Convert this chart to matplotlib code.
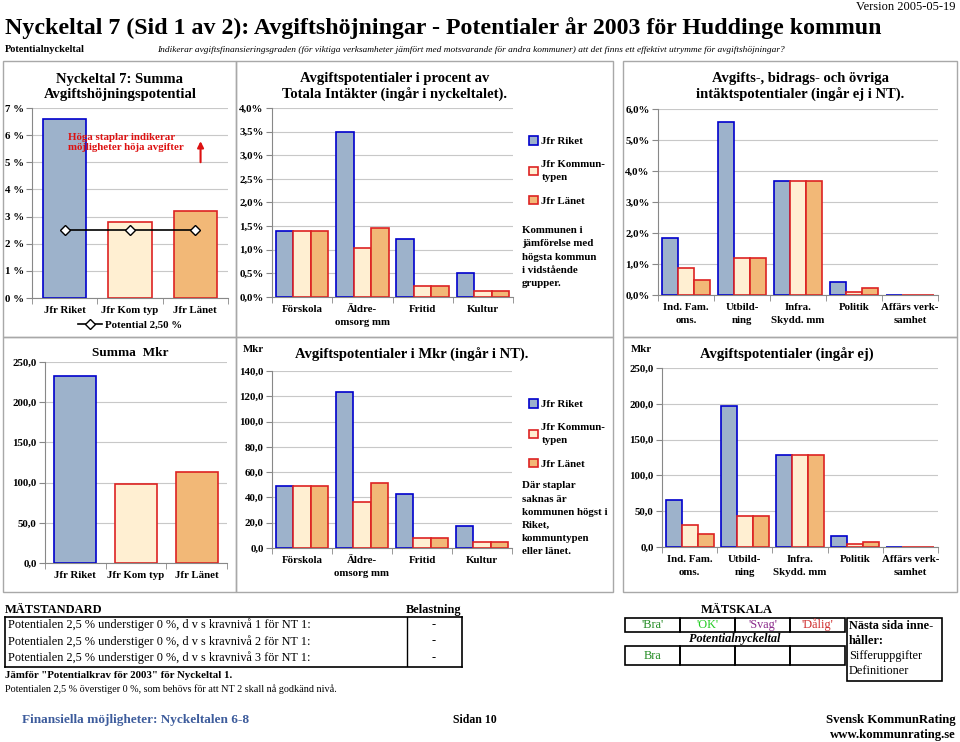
import matplotlib
matplotlib.use("Agg")
import matplotlib.pyplot as plt
import matplotlib.patches as mpatches
import numpy as np

plt.rcParams['font.family'] = ['Liberation Serif', 'DejaVu Serif']

W, H = 960, 742

# --- data ---
serier = ['Jfr Riket', 'Jfr Kommun-\ntypen', 'Jfr Länet']
summa_kat = ['Jfr Riket', 'Jfr Kom typ', 'Jfr Länet']
summa_pct = [6.6, 2.8, 3.22]
potential = 2.5
summa_mkr = [232.0, 98.0, 113.0]

nt_kat = ['Förskola', 'Äldre-\nomsorg mm', 'Fritid', 'Kultur']
nt_pct_riket = [1.40, 3.50, 1.22, 0.50]
nt_pct_kom = [1.40, 1.03, 0.23, 0.12]
nt_pct_lan = [1.40, 1.47, 0.23, 0.12]
nt_mkr_riket = [49.0, 123.0, 42.5, 17.5]
nt_mkr_kom = [49.0, 36.0, 8.0, 4.5]
nt_mkr_lan = [49.0, 51.5, 8.0, 4.5]

ej_kat = ['Ind. Fam.\noms.', 'Utbild-\nning', 'Infra.\nSkydd. mm', 'Politik', 'Affärs verk-\nsamhet']
ej_pct_riket = [1.83, 5.58, 3.67, 0.42, 0.0]
ej_pct_kom = [0.87, 1.20, 3.67, 0.10, 0.0]
ej_pct_lan = [0.50, 1.20, 3.67, 0.22, 0.0]
ej_mkr_riket = [65.0, 197.0, 129.0, 15.0, 0.0]
ej_mkr_kom = [31.0, 43.0, 129.0, 4.0, 0.0]
ej_mkr_lan = [17.5, 43.0, 129.0, 7.5, 0.0]

ticks_summa = [0, 1, 2, 3, 4, 5, 6, 7]
ticklab_summa = ['0 %', '1 %', '2 %', '3 %', '4 %', '5 %', '6 %', '7 %']
ticks_ntpct = [0, 0.5, 1.0, 1.5, 2.0, 2.5, 3.0, 3.5, 4.0]
ticklab_ntpct = ['0,0%', '0,5%', '1,0%', '1,5%', '2,0%', '2,5%', '3,0%', '3,5%', '4,0%']
ticks_ejpct = [0, 1, 2, 3, 4, 5, 6]
ticklab_ejpct = ['0,0%', '1,0%', '2,0%', '3,0%', '4,0%', '5,0%', '6,0%']
ticks_250 = [0, 50, 100, 150, 200, 250]
ticklab_250 = ['0,0', '50,0', '100,0', '150,0', '200,0', '250,0']
ticks_140 = [0, 20, 40, 60, 80, 100, 120, 140]
ticklab_140 = ['0,0', '20,0', '40,0', '60,0', '80,0', '100,0', '120,0', '140,0']

standard_rader = ['Potentialen 2,5 % understiger 0 %, d v s kravnivå 1 för NT 1:',
                  'Potentialen 2,5 % understiger 0 %, d v s kravnivå 2 för NT 1:',
                  'Potentialen 2,5 % understiger 0 %, d v s kravnivå 3 för NT 1:']
belastning = ['-', '-', '-']
skala = ["'Bra'", "'OK'", "'Svag'", "'Dålig'"]
skala_farg = ['#228B22', '#22CC22', '#8B2A8B', '#D03030']
resultat = ['Bra', '', '', '']

# --- style ---
fc = ['#9DB2CB', '#FFEFD2', '#F2B877']
ec = ['#0000CC', '#DD2222', '#DD2222']
GRID = '#C8C8C8'
SPINE = '#888888'

fig = plt.figure(figsize=(W / 100, H / 100), dpi=100)


def px_axes(x0, y0, x1, y1):
    return fig.add_axes([x0 / W, 1 - y1 / H, (x1 - x0) / W, (y1 - y0) / H])


def ftext(x, y, s, **kw):
    kw.setdefault('va', 'center')
    return fig.text(x / W, 1 - y / H, s, **kw)


def style(ax, ncat, ticks, ticklabs, ymax, cats):
    ax.set_xlim(-0.5, ncat - 0.5)
    ax.set_ylim(0, ymax)
    ax.set_yticks(ticks)
    ax.set_yticklabels(ticklabs, fontsize=7.8, fontweight='bold')
    ax.set_xticks(range(ncat))
    ax.set_xticklabels(cats, fontsize=7.8, fontweight='bold', linespacing=1.5, va='top')
    ax.set_xticks(np.arange(-0.5, ncat, 1.0), minor=True)
    ax.tick_params(axis='x', which='major', length=0, pad=6)
    ax.tick_params(axis='x', which='minor', length=4, color=SPINE, direction='out')
    ax.tick_params(axis='y', length=4, color=SPINE, direction='out', pad=2)
    for s in ['top', 'right']:
        ax.spines[s].set_visible(False)
    for s in ['left', 'bottom']:
        ax.spines[s].set_color(SPINE)
        ax.spines[s].set_linewidth(0.8)
    ax.yaxis.grid(True, color=GRID, linewidth=0.8)
    ax.set_axisbelow(True)


def grouped(ax, series, width=0.29):
    x = np.arange(len(series[0]))
    for i, vals in enumerate(series):
        ax.bar(x + (i - 1) * width, vals, width, color=fc[i], edgecolor=ec[i], linewidth=1.2)


def legend_right(ax, x, y):
    handles = [mpatches.Patch(facecolor=fc[i], edgecolor=ec[i], linewidth=1.2) for i in range(3)]
    leg = ax.legend(handles, serier, loc='upper left', bbox_to_anchor=(x, y),
                    bbox_transform=fig.transFigure, frameon=False,
                    prop={'size': 7.8, 'weight': 'bold'}, handlelength=0.8, handleheight=0.8,
                    handletextpad=0.3, labelspacing=1.3, borderpad=0)
    for t in leg.get_texts():
        t.set_linespacing(1.45)


# --- panel frames ---
for (x0, y0, x1, y1) in [(3, 61, 236, 337), (236, 61, 613, 337), (623, 61, 957, 337),
                         (3, 337, 236, 592), (236, 337, 613, 592), (623, 337, 957, 592)]:
    fig.patches.append(mpatches.Rectangle((x0 / W, 1 - y1 / H), (x1 - x0) / W, (y1 - y0) / H,
                                          transform=fig.transFigure, fill=False,
                                          edgecolor='#A8A8A8', linewidth=1.0))

# --- header ---
ftext(955, 7, 'Version 2005-05-19', ha='right', fontsize=9)
ftext(5, 28, 'Nyckeltal 7 (Sid 1 av 2): Avgiftshöjningar - Potentialer år 2003 för Huddinge kommun',
      fontsize=17.2, fontweight='bold')
ftext(5, 50, 'Potentialnyckeltal', fontsize=7.5, fontweight='bold')
ftext(157, 50, 'Indikerar avgiftsfinansieringsgraden (för viktiga verksamheter jämfört med motsvarande '
      'för andra kommuner) att det finns ett effektivt utrymme för avgiftshöjningar?',
      fontsize=6.75, style='italic')

# --- panel 1: summa procent ---
ax1 = px_axes(32, 108, 228, 298)
style(ax1, 3, ticks_summa, ticklab_summa, 7, summa_kat)
x = np.arange(3)
for i in range(3):
    ax1.bar(x[i], summa_pct[i], 0.66, color=fc[i], edgecolor=ec[i], linewidth=1.2)
pl, = ax1.plot(x, [potential] * 3, color='black', linewidth=1.2, marker='D', markersize=5,
               markerfacecolor='white', markeredgecolor='black', label='Potential 2,50 %')
ax1.legend(handles=[pl], loc='upper center', bbox_to_anchor=(0.5, -0.09), frameon=False,
           prop={'size': 7.8, 'weight': 'bold'}, handlelength=2.2, handletextpad=0.3, borderpad=0)
ax1.text(0.185, 0.87, 'Höga staplar indikerar\nmöjligheter höja avgifter', transform=ax1.transAxes,
         color='#DD1111', fontsize=7.8, fontweight='bold', va='top')
ax1.annotate('', xy=(0.86, 0.84), xytext=(0.86, 0.7), xycoords='axes fraction',
             arrowprops=dict(arrowstyle='-|>', color='#DD1111', lw=1.5, mutation_scale=9))
ftext(120, 87, 'Nyckeltal 7: Summa\nAvgiftshöjningspotential', ha='center', fontsize=10.5,
      fontweight='bold', linespacing=1.2)

# --- panel 2: NT procent ---
ax2 = px_axes(272, 108, 513, 297)
style(ax2, 4, ticks_ntpct, ticklab_ntpct, 4.0, nt_kat)
grouped(ax2, [nt_pct_riket, nt_pct_kom, nt_pct_lan])
legend_right(ax2, 524 / W, 1 - 131 / H)
ftext(522, 257, 'Kommunen i\njämförelse med\nhögsta kommun\ni vidstående\ngrupper.',
      fontsize=7.8, fontweight='bold', linespacing=1.6)
ftext(395, 87, 'Avgiftspotentialer i procent av\nTotala Intäkter (ingår i nyckeltalet).',
      ha='center', fontsize=10.5, fontweight='bold', linespacing=1.2)

# --- panel 3: ej NT procent ---
ax3 = px_axes(658, 109, 938, 295)
style(ax3, 5, ticks_ejpct, ticklab_ejpct, 6.0, ej_kat)
grouped(ax3, [ej_pct_riket, ej_pct_kom, ej_pct_lan])
ftext(800, 87, 'Avgifts-, bidrags- och övriga\nintäktspotentialer (ingår ej i NT).',
      ha='center', fontsize=10.5, fontweight='bold', linespacing=1.2)

# --- panel 4: summa Mkr ---
ax4 = px_axes(45, 362, 227, 563)
style(ax4, 3, ticks_250, ticklab_250, 250, summa_kat)
for i in range(3):
    ax4.bar(x[i], summa_mkr[i], 0.69, color=fc[i], edgecolor=ec[i], linewidth=1.2)
ftext(130, 353, 'Summa  Mkr', ha='center', fontsize=9.5, fontweight='bold')

# --- panel 5: NT Mkr ---
ax5 = px_axes(272, 371, 512, 548)
style(ax5, 4, ticks_140, ticklab_140, 140, nt_kat)
grouped(ax5, [nt_mkr_riket, nt_mkr_kom, nt_mkr_lan])
legend_right(ax5, 524 / W, 1 - 394 / H)
ftext(522, 519, 'Där staplar\nsaknas är\nkommunen högst i\nRiket,\nkommuntypen\neller länet.',
      fontsize=7.8, fontweight='bold', linespacing=1.6)
ftext(253, 349, 'Mkr', ha='center', fontsize=7.8, fontweight='bold')
ftext(412, 355, 'Avgiftspotentialer i Mkr (ingår i NT).', ha='center', fontsize=10.5, fontweight='bold')

# --- panel 6: ej NT Mkr ---
ax6 = px_axes(662, 368, 938, 547)
style(ax6, 5, ticks_250, ticklab_250, 250, ej_kat)
grouped(ax6, [ej_mkr_riket, ej_mkr_kom, ej_mkr_lan])
ftext(641, 350, 'Mkr', ha='center', fontsize=7.8, fontweight='bold')
ftext(787, 355, 'Avgiftspotentialer (ingår ej)', ha='center', fontsize=10.5, fontweight='bold')

# --- bottom: mätstandard ---
ftext(5, 610, 'MÄTSTANDARD', fontsize=9, fontweight='bold')
ftext(434, 610, 'Belastning', ha='center', fontsize=8.8, fontweight='bold')
tab = px_axes(5, 617, 462, 667)
tab.set_xlim(5, 462)
tab.set_ylim(667, 617)
tab.set_xticks([])
tab.set_yticks([])
for s in tab.spines.values():
    s.set_linewidth(1.2)
tab.axvline(407, color='black', linewidth=1.0)
for i, (r, b) in enumerate(zip(standard_rader, belastning)):
    yy = 625 + i * 16.5
    tab.text(8, yy, r, fontsize=8.8, va='center')
    tab.text(434, yy, b, fontsize=8.8, va='center', ha='center')
ftext(5, 675, 'Jämför "Potentialkrav för 2003" för Nyckeltal 1.', fontsize=7.8, fontweight='bold')
ftext(5, 689, 'Potentialen 2,5 % överstiger 0 %, som behövs för att NT 2 skall nå godkänd nivå.',
      fontsize=7.3)

# --- bottom: mätskala ---
ftext(737, 610, 'MÄTSKALA', ha='center', fontsize=9, fontweight='bold')
sk = px_axes(625, 618, 845, 665)
sk.set_xlim(625, 845)
sk.set_ylim(665, 618)
sk.axis('off')
for i in range(4):
    x0 = 625 + i * 55
    sk.add_patch(mpatches.Rectangle((x0, 618), 55, 14, fill=False, edgecolor='black',
                                    linewidth=1.2, clip_on=False))
    sk.add_patch(mpatches.Rectangle((x0, 646), 55, 19, fill=False, edgecolor='black',
                                    linewidth=1.2, clip_on=False))
    sk.text(x0 + 27.5, 625, skala[i], color=skala_farg[i], fontsize=8.8, ha='center', va='center')
    sk.text(x0 + 27.5, 656, resultat[i], color=skala_farg[i], fontsize=8.8, ha='center', va='center')
sk.text(735, 639, 'Potentialnyckeltal', fontsize=8.8, ha='center', va='center',
        fontweight='bold', style='italic')
fig.patches.append(mpatches.Rectangle((847 / W, 1 - 681 / H), 95 / W, 63 / H,
                                      transform=fig.transFigure, fill=False,
                                      edgecolor='black', linewidth=1.2))
ftext(849, 626, 'Nästa sida inne-', fontsize=8.8, fontweight='bold')
ftext(849, 641, 'håller:', fontsize=8.8, fontweight='bold')
ftext(849, 656, 'Sifferuppgifter', fontsize=8.8)
ftext(849, 671, 'Definitioner', fontsize=8.8)

# --- footer ---
ftext(22, 720, 'Finansiella möjligheter: Nyckeltalen 6-8', fontsize=9.5, fontweight='bold',
      color='#3D5C9C')
ftext(453, 720, 'Sidan 10', fontsize=8.5, fontweight='bold')
ftext(956, 720, 'Svensk KommunRating', ha='right', fontsize=9.2, fontweight='bold')
ftext(956, 735, 'www.kommunrating.se', ha='right', fontsize=9.2, fontweight='bold')

fig.savefig('out.png', dpi=100)
